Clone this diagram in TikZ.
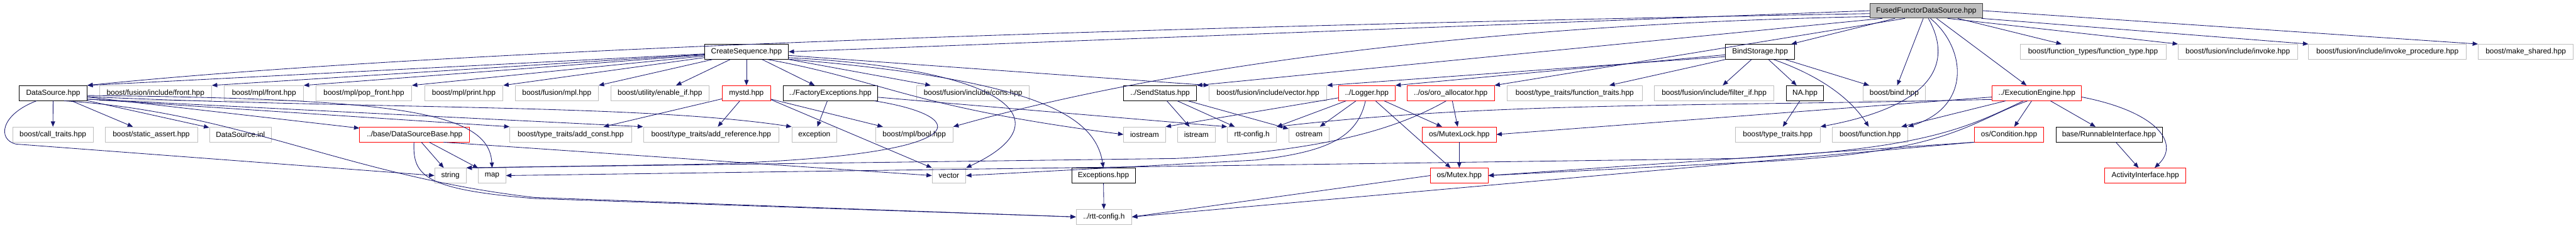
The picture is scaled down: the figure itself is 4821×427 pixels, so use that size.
\documentclass[tikz,border=0pt]{standalone}
\usepackage{fontspec}
\setmainfont{Liberation Sans}
\usetikzlibrary{arrows.meta}
\definecolor{edgeblue}{HTML}{191970}
\definecolor{boxgray}{HTML}{BFBFBF}
\definecolor{boxred}{HTML}{FF0000}

\begin{document}
\begin{tikzpicture}[x=0.75pt,y=-0.75pt,
    file/.style={draw,rectangle,minimum height=21pt,inner sep=0pt,line width=0.75pt,font=\fontsize{10.5}{12}\selectfont},
    ext/.style={file,draw=boxgray},
    doc/.style={file,draw=black},
    bad/.style={file,draw=boxred},
    root/.style={file,draw=black!75,fill=boxgray},
    bw/.style={minimum width=#1*0.75pt},
    dep/.style={draw=edgeblue,line width=0.75pt,-{Triangle[length=7.5pt,width=6pt]}}]
\useasboundingbox (0,0) rectangle (4821,427);

% row 1
\node[root,bw=210] (fused) at (3605,20) {FusedFunctorDataSource.hpp};
% row 2
\node[doc,bw=157] (cseq) at (1397,97) {CreateSequence.hpp};
\node[doc,bw=129] (bind) at (3294,97) {BindStorage.hpp};
\node[ext,bw=273] (ftype) at (3917,97) {boost/function\_types/function\_type.hpp};
\node[ext,bw=223] (invoke) at (4188,97) {boost/fusion/include/invoke.hpp};
\node[ext,bw=295] (invproc) at (4468,97) {boost/fusion/include/invoke\_procedure.hpp};
\node[ext,bw=178] (mkshared) at (4727,97) {boost/make\_shared.hpp};
% row 3
\node[doc,bw=127] (ds) at (99.5,174.5) {DataSource.hpp};
\node[ext,bw=210] (ffront) at (291,174.5) {boost/fusion/include/front.hpp};
\node[ext,bw=148] (mfront) at (494,174.5) {boost/mpl/front.hpp};
\node[ext,bw=179] (popfront) at (681,174.5) {boost/mpl/pop\_front.hpp};
\node[ext,bw=147] (print) at (868,174.5) {boost/mpl/print.hpp};
\node[ext,bw=156] (fmpl) at (1042,174.5) {boost/fusion/mpl.hpp};
\node[ext,bw=184] (enableif) at (1235,174.5) {boost/utility/enable\_if.hpp};
\node[bad,bw=91] (mystd) at (1397,174.5) {mystd.hpp};
\node[doc,bw=177] (factexc) at (1554,174.5) {../FactoryExceptions.hpp};
\node[ext,bw=211] (cons) at (1821,174.5) {boost/fusion/include/cons.hpp};
\node[doc,bw=137] (sendst) at (2171,174.5) {../SendStatus.hpp};
\node[ext,bw=220] (fvector) at (2373,174.5) {boost/fusion/include/vector.hpp};
\node[bad,bw=106] (logger) at (2558,174.5) {../Logger.hpp};
\node[bad,bw=163] (alloc) at (2715,174.5) {../os/oro\_allocator.hpp};
\node[ext,bw=253] (ftraits) at (2947,174.5) {boost/type\_traits/function\_traits.hpp};
\node[ext,bw=223] (filterif) at (3208,174.5) {boost/fusion/include/filter\_if.hpp};
\node[doc,bw=70] (na) at (3378,174.5) {NA.hpp};
\node[ext,bw=117] (bbind) at (3545,174.5) {boost/bind.hpp};
\node[bad,bw=167] (exeng) at (3812,174.5) {../ExecutionEngine.hpp};
% row 4
\node[ext,bw=151] (calltr) at (99,252) {boost/call\_traits.hpp};
\node[ext,bw=173] (sassert) at (283,252) {boost/static\_assert.hpp};
\node[ext,bw=116] (dsinl) at (450,252) {DataSource.inl};
\node[bad,bw=206] (dsbase) at (776,252) {../base/DataSourceBase.hpp};
\node[ext,bw=228] (addconst) at (1068,252) {boost/type\_traits/add\_const.hpp};
\node[ext,bw=254] (addref) at (1331,252) {boost/type\_traits/add\_reference.hpp};
\node[ext,bw=84] (exception) at (1524,252) {exception};
\node[ext,bw=145] (mplbool) at (1711,252) {boost/mpl/bool.hpp};
\node[ext,bw=78] (iostream) at (2142,252) {iostream};
\node[ext,bw=71] (istream) at (2239,252) {istream};
\node[ext,bw=92] (rttcfg) at (2343,252) {rtt-config.h};
\node[ext,bw=76] (ostream) at (2450,252) {ostream};
\node[bad,bw=138] (mutexlock) at (2731,252) {os/MutexLock.hpp};
\node[ext,bw=159] (ttraits) at (3327,252) {boost/type\_traits.hpp};
\node[ext,bw=141] (bfunction) at (3500,252) {boost/function.hpp};
\node[bad,bw=129] (cond) at (3760,252) {os/Condition.hpp};
\node[doc,bw=199] (runnable) at (3947,252) {base/RunnableInterface.hpp};
% row 5
\node[ext,bw=59] (string) at (843,329) {string};
\node[ext,bw=51] (map) at (921,329) {map};
\node[ext,bw=63] (vector) at (1776,329) {vector};
\node[doc,bw=119] (exc) at (2065,329) {Exceptions.hpp};
\node[bad,bw=108] (mutex) at (2731,329) {os/Mutex.hpp};
\node[bad,bw=152] (activity) at (4015,329) {ActivityInterface.hpp};
% row 6
\node[ext,bw=104] (rrtt) at (2066,406.5) {../rtt-config.h};

% FusedFunctorDataSource.hpp
\draw[dep] (fused.183) .. controls (2400,45) and (900,85) .. (ds.north east);
\draw[dep] (fused.west) -- (cseq.east);
\draw[dep] (fused.186) .. controls (2800,45) and (2200,120) .. (mplbool.north east);
\draw[dep] (fused.190) -- (sendst.north east);
\draw[dep] (fused.200) -- (alloc.north east);
\draw[dep] (fused) -- (bind);
\draw[dep] (fused) -- (bbind);
\draw[dep] (fused.-62) .. controls (3680,90) and (3690,200) .. (bfunction.north east);
\draw[dep] (fused.-75) .. controls (3640,90) and (3660,190) .. (ttraits.north east);
\draw[dep] (fused) -- (exeng);
\draw[dep] (fused) -- (ftype);
\draw[dep] (fused.-20) -- (invoke.north west);
\draw[dep] (fused.-8) -- (invproc.north west);
\draw[dep] (fused.east) -- (mkshared.north west);

% CreateSequence.hpp
\draw[dep] (cseq) -- (ds.north east);
\draw[dep] (cseq) -- (ffront.north east);
\draw[dep] (cseq) -- (mfront.north east);
\draw[dep] (cseq) -- (popfront.north east);
\draw[dep] (cseq) -- (print.north east);
\draw[dep] (cseq) -- (fmpl.north east);
\draw[dep] (cseq) -- (enableif);
\draw[dep] (cseq) -- (mystd);
\draw[dep] (cseq) -- (factexc);
\draw[dep] (cseq) -- (cons);
\draw[dep] (cseq.-5) -- (fvector.north west);
\draw[dep] (cseq.-8) .. controls (1900,130) and (1990,230) .. (vector.north east);
\draw[dep] (cseq.-10) .. controls (1950,150) and (2050,220) .. (exc.north);
\draw[dep] (cseq.-20) .. controls (1650,150) and (1700,200) .. (iostream.west);

% BindStorage.hpp
\draw[dep] (bind.-175) -- (logger.north east);
\draw[dep] (bind.-172) -- (fvector.north east);
\draw[dep] (bind) -- (ftraits);
\draw[dep] (bind) -- (filterif);
\draw[dep] (bind) -- (na);
\draw[dep] (bind) -- (bbind);
\draw[dep] (bind.-30) .. controls (3400,140) and (3460,180) .. (bfunction.100);

% DataSource.hpp
\draw[dep] (ds) -- (calltr);
\draw[dep] (ds) -- (sassert);
\draw[dep] (ds) -- (dsinl);
\draw[dep] (ds) -- (dsbase);
\draw[dep] (ds.-10) -- (addconst.north west);
\draw[dep] (ds.-10) -- (addref.north west);
\draw[dep] (ds.-6) .. controls (700,205) and (1200,195) .. (exception.north west);
\draw[dep] (ds.-4) .. controls (750,185) and (915,210) .. (map.north);
\draw[dep] (ds.-35) .. controls (450,210) and (650,330) .. (1000,370) -- (rrtt.west);
\draw[dep] (ds.-155) .. controls (0,215) and (-5,262) .. (30,270) -- (string.west);

\draw[dep] (mystd) -- (addconst);
\draw[dep] (mystd) -- (addref);
\draw[dep] (mystd) -- (mplbool);
\draw[dep] (mystd.-15) -- (vector.north west);

\draw[dep] (factexc) -- (exception);
\draw[dep] (factexc.-5) -- (rttcfg.north west);
\draw[dep] (factexc.-10) .. controls (1830,220) and (1830,295) .. (1300,308) -- (string.north east);

\draw[dep] (dsbase) -- (string);
\draw[dep] (dsbase) -- (map);
\draw[dep] (dsbase.-15) -- (vector.west);
\draw[dep] (dsbase.-95) .. controls (772,330) and (795,355) .. (1000,372) -- (rrtt.west);

\draw[dep] (sendst) -- (istream);
\draw[dep] (sendst) -- (rttcfg);
\draw[dep] (sendst) -- (ostream);

\draw[dep] (logger) -- (iostream.north east);
\draw[dep] (logger) -- (rttcfg.north east);
\draw[dep] (logger) -- (ostream);
\draw[dep] (logger) -- (mutexlock);
\draw[dep] (logger) -- (mutex);
\draw[dep] (logger.-100) .. controls (2540,260) and (2480,285) .. (2350,300) -- (vector.east);

\draw[dep] (alloc) -- (mutexlock);
\draw[dep] (alloc.-120) .. controls (2600,250) and (2450,285) .. (2200,297) -- (string.north east);

\draw[dep] (na) -- (ttraits);

% ../ExecutionEngine.hpp
\draw[dep] (exeng) -- (cond);
\draw[dep] (exeng) -- (runnable);
\draw[dep] (exeng) -- (bfunction);
\draw[dep] (exeng.-5) .. controls (4040,210) and (4080,270) .. (activity.40);
\draw[dep] (exeng.-175) -- (mutexlock.east);
\draw[dep] (exeng.-172) .. controls (3200,200) and (2800,190) .. (rttcfg.north east);
\draw[dep] (exeng.-150) .. controls (3680,240) and (3600,280) .. (3250,297) -- (map.east);
\draw[dep] (exeng.-140) .. controls (3680,230) and (3650,290) .. (3250,305) -- (mutex.east);

\draw[dep] (cond.south west) -- (mutex.east);
\draw[dep] (cond.south west) -- (rrtt.east);
\draw[dep] (runnable) -- (activity);
\draw[dep] (mutexlock) -- (mutex);
\draw[dep] (mutex.west) -- (rrtt.east);
\draw[dep] (exc) -- (rrtt);
\end{tikzpicture}
\end{document}
